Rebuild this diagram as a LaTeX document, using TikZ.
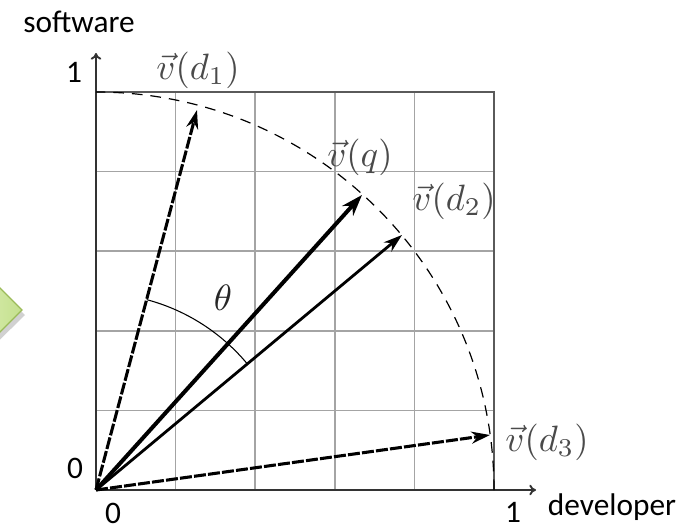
\documentclass[tikz,border=0pt]{standalone}
\usepackage{fontspec}
\setmainfont{Carlito}
\usetikzlibrary{arrows.meta,calc}
\definecolor{gridc}{HTML}{A4A4A4}
\definecolor{borderc}{HTML}{5A5A5A}
\definecolor{greenf}{HTML}{C4E08E}
\definecolor{greenl}{HTML}{DCEFB4}
\definecolor{greend}{HTML}{9BBB59}
\definecolor{labc}{HTML}{4A4A4A}
\newcommand{\mylabmath}[1]{\scalebox{2.75}{$#1$}}
\begin{document}
\begin{tikzpicture}[x=0.75pt,y=-0.75pt,
  gridline/.style={draw=gridc,line width=1.1pt},
  borderline/.style={draw=borderc,line width=1.5pt},
  axisline/.style={draw=black!80,line width=1.4pt,-{To[length=5pt,width=8pt]}},
  vecthick/.style={line width=3pt,-{Stealth[length=16pt,width=11pt]}},
  vecmed/.style={line width=2.1pt,-{Stealth[length=14pt,width=9pt]}},
  vecdash/.style={line width=2.3pt,dash pattern=on 9pt off 1.6pt,-{Stealth[length=14pt,width=9pt]}},
  circarc/.style={line width=0.9pt,dash pattern=on 8pt off 6pt},
  thetaarc/.style={line width=0.8pt},
  sanslab/.style={font=\fontsize{23.5}{26}\selectfont,inner sep=0pt},
  mathlab/.style={text=labc,inner sep=0pt}]
\path[use as bounding box] (0,0) rectangle (697,529);

% green chevron, cut off at the left edge
\begin{scope}
  \clip (0,0) rectangle (697,529);
  \fill[black,opacity=0.18] (-30,261) -- (25,315) -- (-30,369) -- cycle;
  \shade[left color=greenl,right color=greenf,draw=greend,line width=1pt]
    (-30,258) -- (22,310) -- (-30,362) -- cycle;
\end{scope}

\coordinate (O) at (96,490);

% grid
\foreach \k in {1,...,4} {
  \draw[gridline] ({96+\k*79.6},490) -- ({96+\k*79.6},92);
  \draw[gridline] (96,{490-\k*79.6}) -- (494,{490-\k*79.6});
}
\draw[borderline] (96,92) -- (494,92) -- (494,490);

% axes
\coordinate (ytop) at (96,53);
\coordinate (xend) at (536,490);
\draw[axisline] (O) -- (ytop);
\draw[axisline] (O) -- (xend);

% unit circle arc
\draw[circarc] (494,490) arc[start angle=0,end angle=-90,radius=398];

% vectors
\coordinate (d1) at (197,110);
\coordinate (q) at (362,195);
\coordinate (d2) at (402,235);
\coordinate (d3) at (490,435);
\draw[vecdash] (O) -- (d1);
\draw[vecthick] (O) -- (q);
\draw[vecmed] (O) -- (d2);
\draw[vecdash] (O) -- (d3);

% theta arc
\draw[thetaarc] ($(O)+(-39.8:197)$) arc[start angle=-39.8,end angle=-75.1,radius=197];

% labels
\node[mathlab] (ld1) at (198,70) {\mylabmath{\vec{v}(d_1)}};
\node[mathlab] (lq) at (360,157) {\mylabmath{\vec{v}(q)}};
\node[mathlab] (ld2) at (454,201) {\mylabmath{\vec{v}(d_2)}};
\node[mathlab] (ld3) at (547,442) {\mylabmath{\vec{v}(d_3)}};
\node[mathlab,text=black!85] (lth) at (223,298) {\mylabmath{\theta}};

\node[sanslab] (sw) at (79,22) {software};
\node[sanslab] (dev) at (612,507) {developer};
\node[sanslab] (y1) at (74,72) {1};
\node[sanslab] (y0) at (75,468) {0};
\node[sanslab] (x0) at (113,513) {0};
\node[sanslab] (x1) at (513,512) {1};
\end{tikzpicture}
\end{document}
